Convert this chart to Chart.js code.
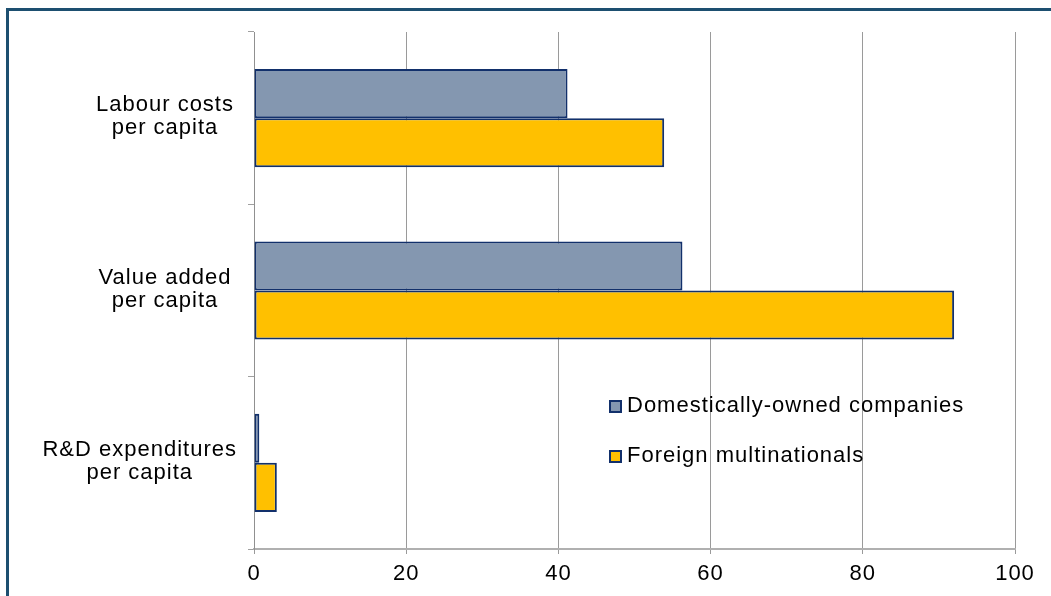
<!DOCTYPE html>
<html>
<head>
<meta charset="utf-8">
<script src="https://cdn.jsdelivr.net/npm/chart.js@4.4.1/dist/chart.umd.min.js"></script>
<style>
  html, body { margin: 0; padding: 0; background: #fff; overflow: hidden; }
  #wrap { position: relative; width: 1051px; height: 596px; }
  #frame { position: absolute; left: 6px; top: 8px; width: 1100px; height: 700px;
           border-left: 3px solid #1d4f70; border-top: 3px solid #1d4f70; }
  canvas { position: absolute; left: 0; top: 0; }
</style>
</head>
<body>
<div id="wrap">
  <div id="frame"></div>
  <canvas id="chart" width="1051" height="596"></canvas>
</div>
<script>
// categories (top to bottom) and series values
const categories = [
    ['Labour costs', 'per capita'],
    ['Value added', 'per capita'],
    ['R&D expenditures', 'per capita']
];
const domesticValues = [41.2, 56.3, 0.7];
const foreignValues = [53.9, 92.0, 3.0];
const seriesNames = ['Domestically-owned companies', 'Foreign multinationals'];
const xTicks = [0, 20, 40, 60, 80, 100];

const fontFamily = '"Liberation Sans", Arial, sans-serif';
const spacing = '1px';

// the original text is a bit more spaced out than plain canvas text
const letterSpacing = {
    id: 'letterSpacing',
    beforeUpdate(chart) { chart.ctx.letterSpacing = spacing; },
    beforeDraw(chart) { chart.ctx.letterSpacing = spacing; }
};

// category labels: each block centred, pushed left when too wide
const categoryLabels = {
    id: 'categoryLabels',
    afterDraw(chart) {
        const ctx = chart.ctx;
        const yScale = chart.scales.y;
        ctx.save();
        ctx.font = '22px ' + fontFamily;
        ctx.fillStyle = '#000';
        ctx.textAlign = 'center';
        ctx.textBaseline = 'middle';
        chart.data.labels.forEach(function (lines, i) {
            const yc = yScale.getPixelForValue(i);
            const widest = Math.max(...lines.map(l => ctx.measureText(l).width));
            const cx = Math.min(165, 237 - widest / 2);
            lines.forEach(function (line, j) {
                ctx.fillText(line, cx, yc - 13 + j * 23);
            });
        });
        ctx.restore();
    }
};

// legend drawn inside the plot area, like the original
const innerLegend = {
    id: 'innerLegend',
    afterDraw(chart) {
        const ctx = chart.ctx;
        ctx.save();
        ctx.font = '22px ' + fontFamily;
        ctx.textBaseline = 'middle';
        ctx.textAlign = 'left';
        chart.data.datasets.forEach(function (ds, i) {
            const y = 406 + i * 50;
            ctx.fillStyle = ds.backgroundColor;
            ctx.fillRect(610, y - 5, 11, 11);
            ctx.strokeStyle = '#12306b';
            ctx.lineWidth = 2;
            ctx.strokeRect(610, y - 5, 11, 11);
            ctx.fillStyle = '#000';
            ctx.fillText(ds.label, 627, y);
        });
        ctx.restore();
    }
};

const chart = new Chart(document.getElementById('chart'), {
    type: 'bar',
    data: {
        labels: categories,
        datasets: [{
            label: seriesNames[0],
            data: domesticValues,
            backgroundColor: '#8497b0',
            borderColor: '#12306b',
            borderWidth: 2,
            borderSkipped: false
        }, {
            label: seriesNames[1],
            data: foreignValues,
            backgroundColor: '#ffc000',
            borderColor: '#12306b',
            borderWidth: 2,
            borderSkipped: false
        }]
    },
    options: {
        indexAxis: 'y',
        responsive: false,
        animation: false,
        categoryPercentage: 0.57,
        barPercentage: 1,
        layout: { padding: { top: 32, right: 36, left: 0, bottom: 0 } },
        plugins: {
            legend: { display: false },
            tooltip: { enabled: false }
        },
        scales: {
            x: {
                min: 0,
                max: 100,
                afterBuildTicks: function (scale) {
                    scale.ticks = xTicks.map(v => ({ value: v }));
                },
                afterFit: function (scale) { scale.height = 47; },
                grid: { color: '#9a9a9a', lineWidth: 1, tickLength: 5 },
                border: { color: '#b0b0b0', width: 2 },
                ticks: {
                    color: '#000',
                    padding: 7,
                    maxRotation: 0,
                    font: { family: fontFamily, size: 22 }
                }
            },
            y: {
                afterFit: function (scale) { scale.width = 254; },
                grid: { drawOnChartArea: false, color: '#a0a0a0', tickLength: 6, offset: true },
                border: { color: '#909090', width: 1 },
                ticks: { display: false }
            }
        }
    },
    plugins: [letterSpacing, categoryLabels, innerLegend]
});
</script>
</body>
</html>
